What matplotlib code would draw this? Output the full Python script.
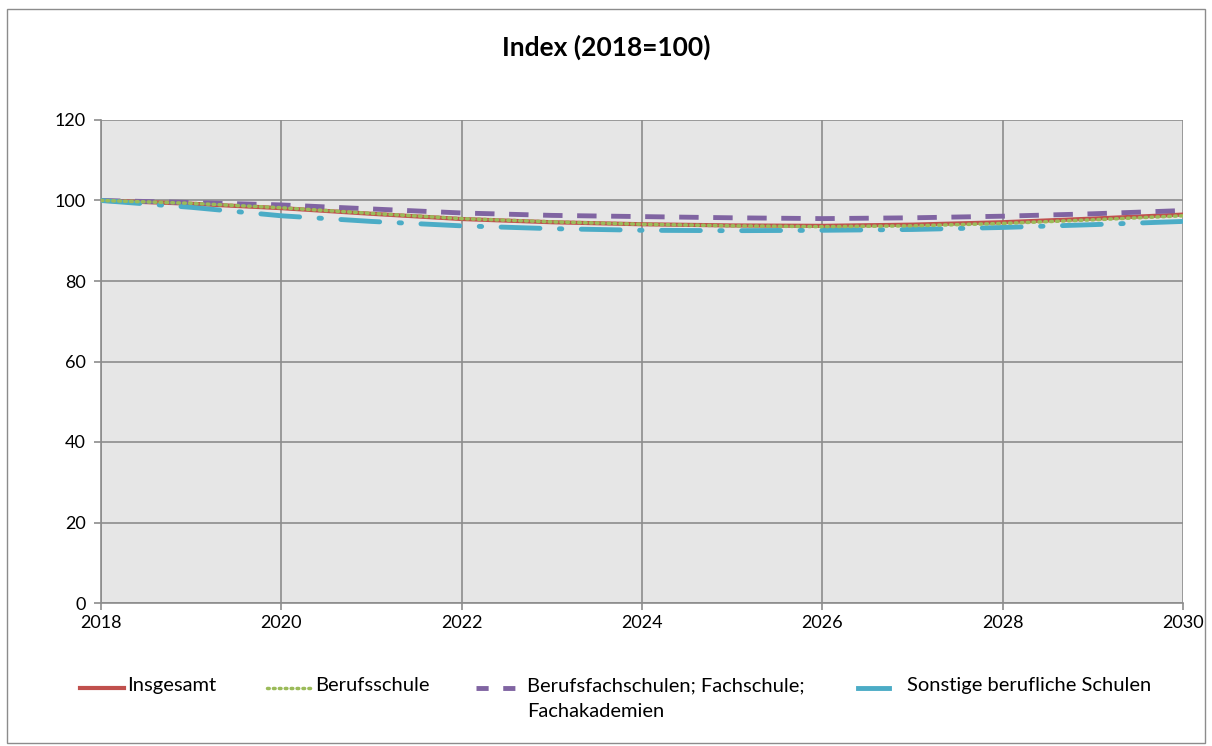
import numpy as np
import matplotlib.pyplot as plt
from matplotlib.patches import Rectangle
from matplotlib.lines import Line2D

# data
years = [2018, 2019, 2020, 2021, 2022, 2023, 2024, 2025, 2026, 2027, 2028, 2029, 2030]
insgesamt = [100, 99.2, 98.1, 96.7, 95.4, 94.6, 94.1, 93.8, 93.7, 94.0, 94.6, 95.5, 96.5]
berufsschule = [100, 99.3, 98.2, 96.8, 95.5, 94.7, 94.1, 93.7, 93.5, 93.7, 94.3, 95.2, 96.2]
berufsfach = [100, 99.5, 98.9, 97.9, 96.9, 96.3, 96.0, 95.7, 95.5, 95.7, 96.1, 96.7, 97.5]
sonstige = [100, 98.3, 96.2, 94.8, 93.7, 93.0, 92.6, 92.5, 92.6, 92.8, 93.3, 94.0, 94.8]

labels = ["Insgesamt", "Berufsschule",
          "Berufsfachschulen; Fachschule;\nFachakademien",
          "Sonstige berufliche Schulen"]

plt.rcParams["font.family"] = ["Lato", "DejaVu Sans"]

W, H = 1212, 746
fig = plt.figure(figsize=(W / 100, H / 100), dpi=100)
fig.patch.set_facecolor("white")
fig.add_artist(Rectangle((7 / W, 3 / H), 1 - 14 / W, 1 - 12 / H, transform=fig.transFigure,
                         fill=False, edgecolor="#8c8c8c", lw=1))

ax = fig.add_axes([101 / W, 1 - 603 / H, (1183 - 101) / W, (603 - 120) / H])
ax.set_facecolor("#e6e6e6")

styles = [
    dict(color="#c0504d", lw=3, linestyle="-"),
    dict(color="#9bbb59", lw=2.5, linestyle=(0, (0.5, 1.2)), dash_capstyle="round"),
    dict(color="#8064a2", lw=3.5, linestyle=(0, (4, 3))),
    dict(color="#4bacc6", lw=3.5, linestyle=(0, (8, 4, 0.5, 4)), dash_capstyle="round"),
]
series = [insgesamt, berufsschule, berufsfach, sonstige]
zorders = [3, 4, 3, 3]
for vals, st, z in zip(series, styles, zorders):
    ax.plot(years, vals, zorder=z, **st)

ax.set_xlim(2018, 2030)
ax.set_ylim(0, 120)
ax.set_xticks(np.arange(2018, 2031, 2))
ax.set_yticks(np.arange(0, 121, 20))
ax.grid(True, color="#8c8c8c", lw=1.2)
ax.set_axisbelow(True)
for side in ["top", "right"]:
    ax.spines[side].set_visible(False)
for side in ["left", "bottom"]:
    ax.spines[side].set_color("#8c8c8c")
    ax.spines[side].set_linewidth(1.2)
ax.tick_params(axis="both", colors="#8c8c8c", labelcolor="black", labelsize=13,
               length=5, width=1.2)
ax.tick_params(axis="y", pad=6)

fig.text(0.5, 1 - 47 / H, "Index (2018=100)", ha="center", va="center",
         fontsize=19, fontweight="bold")

# legend drawn by hand so the handle sits on the first text line
handle_x = [(80, 124), (267, 311), (476, 522), (858, 889)]
text_x = [127, 315, 527, 907]
leg_styles = [dict(s) for s in styles]
leg_styles[2]["linestyle"] = (0, (2.5, 3))
leg_styles[3]["linestyle"] = "-"
leg_y = 688
for (x0, x1), tx, lab, st in zip(handle_x, text_x, labels, leg_styles):
    fig.add_artist(Line2D([x0 / W, x1 / W], [1 - leg_y / H, 1 - leg_y / H],
                          transform=fig.transFigure, **st))
    fig.text(tx / W, 1 - (leg_y - 11) / H, lab, ha="left", va="top",
             fontsize=14.5, linespacing=1.65)

fig.savefig("out.png", dpi=100)
